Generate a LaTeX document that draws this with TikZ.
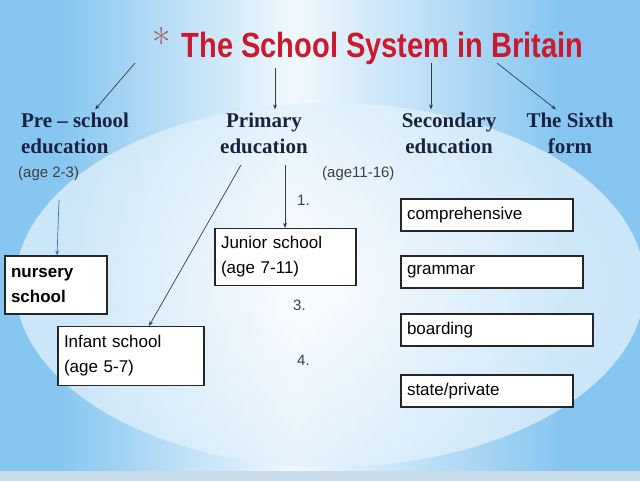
\documentclass[tikz,border=0pt]{standalone}
\usepackage{fontspec}
\newfontfamily\arialfont{Liberation Sans}
\newfontfamily\timesfont{Liberation Serif}
\usetikzlibrary{arrows.meta,calc}

\definecolor{bgblue}{RGB}{135,198,240}
\definecolor{titlered}{RGB}{205,25,45}
\definecolor{starred}{RGB}{170,85,95}
\definecolor{headnavy}{RGB}{25,35,65}
\definecolor{linegray}{RGB}{55,60,70}
\definecolor{nurseblue}{RGB}{70,110,170}
\pgfdeclareradialshading{glow}{\pgfpoint{0bp}{0bp}}{color(0bp)=(white); color(30bp)=(white!70!bgblue); color(50bp)=(white!18!bgblue)}

\tikzset{
  heading/.style={font=\timesfont\bfseries\fontsize{21}{26}\selectfont, text=headnavy, inner sep=0pt, outer sep=3pt},
  note/.style={font=\arialfont\fontsize{15}{18}\selectfont, text=black!75, inner sep=0pt},
  box/.style={draw=black!85, line width=1.2pt, fill=white, font=\arialfont\fontsize{17}{25}\selectfont, align=left, inner xsep=6pt, inner ysep=0pt},
  link/.style={draw=linegray, line width=0.7pt, -{Stealth[length=5pt,width=4pt]}}
}

\begin{document}
\begin{tikzpicture}[x=1pt,y=-1pt]
  % background
  \useasboundingbox (0,0) rectangle (640,480);
  \begin{scope}
    \clip (0,0) rectangle (640,480);
    \fill[bgblue] (-5,-5) rectangle (645,485);
    \shade[left color=bgblue, right color=white!88!bgblue] (60,-5) rectangle (295,485);
    \shade[left color=white!88!bgblue, right color=bgblue] (295,-5) rectangle (560,485);
    \shade[shading=glow, opacity=0.75] (330,285) ellipse [x radius=315, y radius=182];
    \fill[white!65!bgblue!85!gray] (-5,471) rectangle (645,485);
  \end{scope}

  % title
  \node[anchor=base west, inner sep=0pt] (title) at (152,57)
    {{\fontsize{40}{40}\selectfont\color{starred}*}\hspace{11pt}{\arialfont\bfseries\fontsize{35}{40}\selectfont\color{titlered}\scalebox{0.83}[1]{The School System in Britain}}};

  % headings
  \node[heading, align=left, anchor=base west] (pre) at (18,153) {Pre – school\\education};
  \node[heading, align=center, anchor=base] (prim) at (264,153) {Primary\\education};
  \node[heading, align=center, anchor=base] (sec) at (449,153) {Secondary\\education};
  \node[heading, align=center, anchor=base] (six) at (570,153) {The Sixth\\form};
  \node[note, anchor=base west] (preage) at (18,177) {(age 2-3)};
  \node[note, anchor=base west] (secage) at (322,177) {(age11-16)};

  % boxes
  \node[box, font=\arialfont\bfseries\fontsize{17}{25}\selectfont, minimum width=102pt, minimum height=58pt, text width=90pt] (nursery) at (56,285) {nursery\\school};
  \node[box, minimum width=146pt, minimum height=59pt, text width=134pt] (infant) at (131,356) {Infant school\\(age 5-7)};
  \node[box, minimum width=141pt, minimum height=57pt, text width=129pt] (junior) at (285.5,257) {Junior school\\(age 7-11)};
  \node[box, minimum width=172pt, minimum height=32pt, text width=160pt] (compr) at (487,215) {comprehensive};
  \node[box, minimum width=182pt, minimum height=32pt, text width=170pt] (gram) at (492,272) {grammar};
  \node[box, minimum width=192pt, minimum height=32pt, text width=180pt] (board) at (497,330) {boarding};
  \node[box, minimum width=172pt, minimum height=32pt, text width=160pt] (state) at (487,391) {state/private};

  % numbers
  \node[note, anchor=base west] (num1) at (297,205) {1.};
  \node[note, anchor=base west] (num3) at (293,310) {3.};
  \node[note, anchor=base west] (num4) at (297,365) {4.};

  % arrows
  \coordinate (a1) at (135,63);
  \coordinate (a2) at (275,68);
  \coordinate (a3) at (431,63);
  \coordinate (a4) at (497,63);
  \draw[link] (a1) -- (pre);
  \draw[link] (a2) -- (a2 |- prim.north);
  \draw[link] (a3) -- (a3 |- sec.north);
  \draw[link] (a4) -- ($(six.north)+(-14,0)$);

  \coordinate (b1) at (59,200);
  \coordinate (b2) at (241,165);
  \coordinate (b3) at (285,165);
  \draw[link, draw=nurseblue] (b1) -- (nursery);
  \draw[link] (b2) -- ($(infant.north)+(18,0)$);
  \draw[link] (b3) -- (b3 |- junior.north);
\end{tikzpicture}
\end{document}
